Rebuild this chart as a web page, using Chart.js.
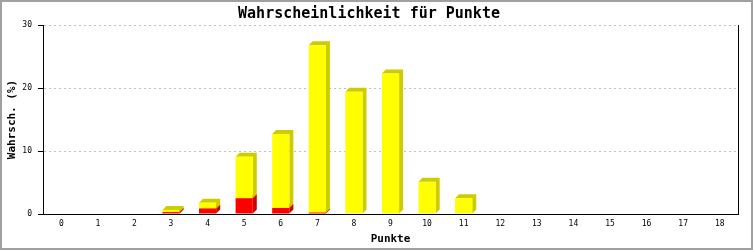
<!DOCTYPE html>
<html>
<head>
<meta charset="utf-8">
<script src="https://cdn.jsdelivr.net/npm/chart.js@4"></script>
<style>
  html, body { margin: 0; padding: 0; background: #fff; }
  canvas { display: block; }
</style>
</head>
<body>
<canvas id="chart" width="753" height="250"></canvas>
<script>
const punkte = ['0', '1', '2', '3', '4', '5', '6', '7', '8', '9', '10', '11', '12', '13', '14', '15', '16', '17', '18'];
// red part at the bottom of each stack
const redPart = [0, 0, 0, 0.3, 0.85, 2.5, 0.95, 0.2, 0, 0, 0, 0, 0, 0, 0, 0, 0, 0, 0];
// yellow part on top of the red one
const yellowPart = [0, 0, 0, 0.35, 0.95, 6.6, 11.75, 26.6, 19.4, 22.3, 5.1, 2.5, 0, 0, 0, 0, 0, 0, 0];
const yTicks = [0, 10, 20, 30];

const SHADOW = 4;
const darker = { '#ff0000': '#cc0000', '#ffff00': '#cccc00' };

// pseudo 3d side/top faces behind every bar
const barShadow = {
  id: 'barShadow',
  beforeDatasetsDraw(chart) {
    const ctx = chart.ctx;
    ctx.save();
    chart.data.datasets.forEach((ds, i) => {
      const meta = chart.getDatasetMeta(i);
      ctx.fillStyle = darker[ds.backgroundColor];
      for (const bar of meta.data) {
        const { x, y, base, width } = bar.getProps(['x', 'y', 'base', 'width'], true);
        const top = Math.min(y, base), bottom = Math.max(y, base);
        if (bottom - top < 0.5) continue;
        const l = x - width / 2, r = x + width / 2;
        ctx.beginPath();
        ctx.moveTo(r, bottom);
        ctx.lineTo(r + SHADOW, bottom - SHADOW);
        ctx.lineTo(r + SHADOW, top - SHADOW);
        ctx.lineTo(l + SHADOW, top - SHADOW);
        ctx.lineTo(l, top);
        ctx.lineTo(r, top);
        ctx.closePath();
        ctx.fill();
      }
    });
    ctx.restore();
  },
};

const frame = {
  id: 'frame',
  beforeDraw(chart) {
    const ctx = chart.ctx;
    ctx.save();
    ctx.fillStyle = '#fff';
    ctx.fillRect(0, 0, chart.width, chart.height);
    ctx.restore();
  },
  afterDraw(chart) {
    const ctx = chart.ctx;
    ctx.save();
    ctx.strokeStyle = '#a0a0a0';
    ctx.lineWidth = 2;
    ctx.strokeRect(1, 1, chart.width - 2, chart.height - 2);
    ctx.restore();
  },
};

const mono = 'DejaVu Sans Mono';

new Chart(document.getElementById('chart'), {
  type: 'bar',
  data: {
    labels: punkte,
    datasets: [
      { label: 'rot', data: redPart, backgroundColor: '#ff0000', borderWidth: 0 },
      { label: 'gelb', data: yellowPart, backgroundColor: '#ffff00', borderWidth: 0 },
    ],
  },
  options: {
    responsive: false,
    animation: false,
    devicePixelRatio: 1,
    layout: { padding: { top: 0, right: 15, bottom: 0, left: 0 } },
    datasets: { bar: { categoryPercentage: 1, barPercentage: 0.47 } },
    plugins: {
      legend: { display: false },
      tooltip: { enabled: false },
      title: {
        display: true,
        text: 'Wahrscheinlichkeit für Punkte',
        color: '#000',
        font: { family: mono, size: 15, weight: 'bold', lineHeight: 1.2 },
        padding: { top: 5, bottom: 2 },
      },
    },
    scales: {
      x: {
        stacked: true,
        grid: { display: false, drawTicks: false, tickLength: 0 },
        border: { color: '#000', width: 1 },
        ticks: { color: '#000', font: { family: mono, size: 8 }, padding: 5, maxRotation: 0, autoSkip: false },
        title: {
          display: true,
          text: 'Punkte',
          color: '#000',
          font: { family: mono, size: 11, weight: 'bold', lineHeight: 1.2 },
          padding: { top: 0, bottom: 4 },
        },
        afterFit: s => { s.height = 36; },
      },
      y: {
        stacked: true,
        min: 0,
        max: 30,
        afterBuildTicks: s => { s.ticks = yTicks.map(v => ({ value: v })); },
        grid: {
          color: '#bfbfbf',
          lineWidth: 1,
          drawTicks: true,
          tickLength: 5,
          tickColor: '#000',
          tickWidth: 1,
          tickBorderDash: [1, 0],
        },
        border: { color: '#000', width: 1, dash: [2, 3] },
        ticks: { color: '#000', font: { family: mono, size: 8 }, padding: 6 },
        title: {
          display: true,
          text: 'Wahrsch. (%)',
          color: '#000',
          font: { family: mono, size: 11, weight: 'bold', lineHeight: 1.2 },
          padding: { top: 6, bottom: 0 },
        },
        afterFit: s => { s.width = 43; },
      },
      yr: {
        position: 'right',
        min: 0,
        max: 30,
        grid: { display: false },
        ticks: { display: false },
        border: { color: '#000', width: 1 },
        afterFit: s => { s.width = 0; },
      },
    },
  },
  plugins: [frame, barShadow],
});
</script>
</body>
</html>
